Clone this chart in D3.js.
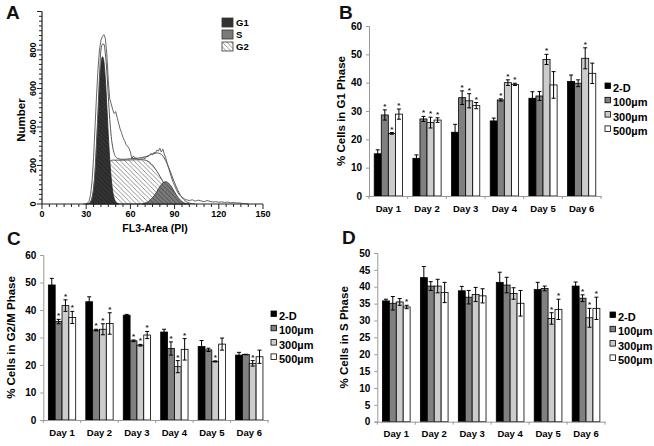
<!DOCTYPE html>
<html><head><meta charset="utf-8">
<script src="https://cdn.jsdelivr.net/npm/d3@7"></script>
<style>body{margin:0;background:#fff} svg{display:block} text{font-family:"Liberation Sans",Arial,sans-serif;}</style>
</head><body><svg id="c" width="654" height="446"></svg>
<script>
// ---------- Data ----------
const days = ["Day 1","Day 2","Day 3","Day 4","Day 5","Day 6"];
const groups = ["2-D","100µm","300µm","500µm"];
const groupFills = ["#000000","#808080","#cccccc","#ffffff"];

// Panel B: % cells in G1 phase
const g1Values = [[14.9,28.6,22.1,28.9],[13.3,27.2,25.9,26.8],[22.5,34.7,33.6,31.9],[26.5,33.9,40.0,39.4],[34.5,35.3,48.2,39.2],[40.4,39.8,48.6,43.3]];
const g1Errors = [[1.4,1.8,0.3,1.8],[1.2,0.9,1.9,0.8],[2.8,2.4,2.5,1.1],[1.0,0.4,1.0,0.4],[2.3,1.6,1.8,4.7],[2.3,1.2,3.7,3.6]];
const g1Stars  = [[0,1,1,1],[0,1,1,1],[0,1,1,1],[0,1,1,1],[0,0,1,0],[0,0,1,0]];

// Panel C: % cells in G2/M phase
const g2mValues = [[49.1,35.8,41.6,37.3],[43.0,32.7,33.0,35.1],[38.1,28.8,27.2,30.9],[32.0,26.0,19.4,25.7],[26.7,25.5,21.3,27.6],[23.6,23.8,20.6,23.0]];
const g2mErrors = [[2.4,0.8,2.1,2.2],[1.8,0.3,2.0,3.9],[0.3,0.3,0.3,1.3],[1.0,2.4,2.2,3.9],[2.2,0.6,0.2,2.2],[1.0,0.1,1.0,2.4]];
const g2mStars  = [[0,1,1,1],[0,1,1,1],[0,1,1,1],[0,1,1,1],[0,0,1,0],[0,0,1,0]];

// Panel D: % cells in S phase
const sValues = [[35.8,35.1,35.5,34.0],[42.7,40.2,40.2,38.3],[38.8,36.9,37.7,37.3],[41.3,40.5,38.0,35.1],[39.2,39.5,30.6,33.3],[40.2,36.6,30.8,33.6]];
const sErrors = [[0.5,2.0,1.0,0.5],[3.3,1.3,2.0,3.0],[1.3,2.0,2.1,2.1],[3.0,2.3,1.7,3.8],[2.1,0.7,1.7,3.0],[1.2,1.0,2.8,3.3]];
const sStars  = [[0,0,0,1],[0,0,0,0],[0,0,0,0],[0,0,0,0],[0,0,1,1],[0,1,1,1]];

const g1Ticks = [0,10,20,30,40,50,60];
const g2mTicks = [0,10,20,30,40,50,60];
const sTicks = [0,5,10,15,20,25,30,35,40,45,50];

// Panel A: DNA histogram (FL3-Area vs Number)
const histXTicks = [0,30,60,90,120,150];
const histYTicks = [0,200,400,600,800];
const histLegend = ["G1","S","G2"];
const g1PeakX = [30,31,32,33,34,35,36,37,38,39,40,41,42,43,44,45,46,47,48,49,50,51,52];
const g1PeakY = [0,0,2,10,30,75,160,290,450,610,720,765,740,650,510,360,230,130,65,28,10,3,0];
const broadX = [34,36,38,40,42,44,46,48,50,55,60,65,68,70,72,74,76,78,80,82,84,86,88,90,92,94,96,98];
const broadY = [0,10,40,90,150,195,220,228,228,228,229,230,230,228,222,210,192,170,145,118,92,68,46,28,15,7,3,0];
const sPeakX = [68,70,72,74,76,78,80,82,84,86,88,90,92,94,96,98,100];
const sPeakY = [0,5,12,25,42,65,90,110,116,108,88,62,38,20,8,2,0];
const fitX = [30,32,34,36,37,38,39,40,41,42,43,44,45,46,47,48,49,50,52,55,60,65,70,72,74,76,78,80,82,84,86,88,90,92,94,96,98,100,104];
const fitY = [0,3,35,170,320,480,660,800,830,830,780,690,560,440,350,295,262,245,235,232,235,238,245,250,258,262,265,262,250,225,190,150,110,75,45,25,12,5,0];
const rawX = [28,30,31,32,33,34,35,36,37,38,39,40,41,42,43,44,45,46,47,48,49,50,51,52,53,54,55,56,57,58,59,60,61,62,63,64,65,66,67,68,69,70,71,72,73,74,75,76,77,78,79,80,81,82,83,84,85,86,87,88,89,90,91,92,93,94,95,96,97,98,99,100,102,104,106,108,110,112,114,116,118,120,122,124,126,128,130,132,134,136,138,140];
const rawY = [0,2,5,15,50,120,240,400,560,700,800,850,870,880,860,780,640,545,520,490,470,480,450,420,390,370,345,330,310,300,290,270,235,250,240,238,235,230,236,232,240,235,248,245,255,262,255,268,265,280,275,290,270,285,260,240,210,185,160,135,112,95,78,62,50,42,35,30,25,22,20,18,22,15,20,16,12,18,14,10,12,9,11,8,10,6,8,5,6,3,2,0];

// ---------- Drawing ----------
const svg = d3.select("#c");
const defs = svg.append("defs");
function hatch(id, bg, fg, w){
  const p = defs.append("pattern").attr("id",id).attr("patternUnits","userSpaceOnUse").attr("width",4.5).attr("height",4.5);
  p.append("rect").attr("width",4.5).attr("height",4.5).attr("fill",bg);
  p.append("path").attr("d","M-1,-1 L5.5,5.5 M-1,3.5 L1,5.5 M3.5,-1 L5.5,1").attr("stroke",fg).attr("stroke-width",w);
}
hatch("hatchW","#ffffff","#777777",0.8);
hatch("hatchS","#7a7a7a","#444444",0.8);
hatch("hatchG1","#333333","#1a1a1a",0.6);

function panelLabel(t,x,y){
  svg.append("text").attr("x",x).attr("y",y).text(t).attr("font-size",19).attr("font-weight","bold").attr("fill","#111");
}

// ----- Panel A -----
(function(){
  const x = d3.scaleLinear().domain([0,150]).range([42,263]);
  const y = d3.scaleLinear().domain([0,1000]).range([204,11.5]);
  const g = svg.append("g");
  const area = (xs,ys)=> d3.area().x((d,i)=>x(xs[i])).y0(y(0)).y1((d,i)=>y(ys[i])).curve(d3.curveMonotoneX)(ys);
  const line = (xs,ys,c)=> d3.line().x((d,i)=>x(xs[i])).y((d,i)=>y(ys[i])).curve(c)(ys);
  g.append("path").attr("d",area(broadX,broadY)).attr("fill","url(#hatchW)").attr("stroke","#444").attr("stroke-width",0.9);
  g.append("path").attr("d",area(g1PeakX,g1PeakY)).attr("fill","url(#hatchG1)").attr("stroke","#222").attr("stroke-width",0.8);
  g.append("path").attr("d",area(sPeakX,sPeakY)).attr("fill","url(#hatchS)").attr("stroke","#333").attr("stroke-width",0.8);
  g.append("path").attr("d",line(fitX,fitY,d3.curveMonotoneX)).attr("fill","none").attr("stroke","#555").attr("stroke-width",1);
  g.append("path").attr("d",line(rawX,rawY,d3.curveLinear)).attr("fill","none").attr("stroke","#555").attr("stroke-width",0.9);
  // axes
  g.append("line").attr("x1",x(0)).attr("x2",x(150)).attr("y1",y(0)).attr("y2",y(0)).attr("stroke","#222").attr("stroke-width",1.2);
  g.append("line").attr("x1",x(0)).attr("x2",x(0)).attr("y1",y(0)).attr("y2",y(1000)).attr("stroke","#222").attr("stroke-width",1.2);
  d3.range(0,151,5).forEach(v=>{
    const major = v%30===0;
    g.append("line").attr("x1",x(v)).attr("x2",x(v)).attr("y1",y(0)).attr("y2",y(0)+(major?5:3)).attr("stroke","#222");
  });
  d3.range(0,1001,25).forEach(v=>{
    const major = v%200===0;
    g.append("line").attr("x1",x(0)).attr("x2",x(0)-(major?5:3)).attr("y1",y(v)).attr("y2",y(v)).attr("stroke","#222");
  });
  histXTicks.forEach(v=> g.append("text").attr("x",x(v)).attr("y",217).attr("text-anchor","middle").attr("font-size",9).attr("font-weight","bold").text(v));
  histYTicks.forEach(v=> g.append("text").attr("transform",`translate(35.5,${y(v)}) rotate(-90)`).attr("text-anchor","middle").attr("font-size",9).attr("font-weight","bold").text(v));
  g.append("text").attr("transform","translate(25,120) rotate(-90)").attr("text-anchor","middle").attr("font-size",11.5).attr("font-weight","bold").text("Number");
  g.append("text").attr("x",155).attr("y",232).attr("text-anchor","middle").attr("font-size",10.5).attr("font-weight","bold").text("FL3-Area (PI)");
  const lf = ["#333333","#7a7a7a","url(#hatchW)"];
  histLegend.forEach((t,i)=>{
    g.append("rect").attr("x",222).attr("y",18+i*12).attr("width",11).attr("height",9).attr("fill",lf[i]).attr("stroke","#333").attr("stroke-width",0.8);
    g.append("text").attr("x",236).attr("y",26+i*12).attr("font-size",9.5).attr("font-weight","bold").text(t);
  });
})();

// ----- Bar panels -----
function barPanel(cfg){
  const g = svg.append("g");
  const x0 = d3.scaleBand().domain(days).range([cfg.left,cfg.right]).paddingInner(0).paddingOuter(0);
  const bw = x0.bandwidth();
  const x1 = d3.scaleBand().domain(groups).range([bw*0.135,bw*0.865]).padding(0);
  const y = d3.scaleLinear().domain([0,cfg.max]).range([cfg.bottom,cfg.top]);
  days.forEach((d,i)=>{
    groups.forEach((s,j)=>{
      const v = cfg.values[i][j], e = cfg.errors[i][j];
      const bx = x0(d)+x1(s);
      g.append("rect").attr("x",bx).attr("y",y(v)).attr("width",x1.bandwidth()).attr("height",y(0)-y(v))
        .attr("fill",groupFills[j]).attr("stroke","#000").attr("stroke-width",0.8);
      const cx = bx + x1.bandwidth()/2;
      g.append("line").attr("x1",cx).attr("x2",cx).attr("y1",y(v+e)).attr("y2",y(v-e)).attr("stroke","#000").attr("stroke-width",1);
      [v+e,v-e].forEach(t=> g.append("line").attr("x1",cx-2).attr("x2",cx+2).attr("y1",y(t)).attr("y2",y(t)).attr("stroke","#000").attr("stroke-width",1));
      if(cfg.stars[i][j]) g.append("text").attr("x",cx).attr("y",y(v+e)-1).attr("text-anchor","middle").attr("font-size",8).attr("font-weight","bold").attr("fill","#222").text("*");
    });
  });
  // y axis
  const ya = g.append("g").attr("transform",`translate(${cfg.left},0)`).call(d3.axisLeft(y).tickValues(cfg.ticks).tickSize(3).tickPadding(4));
  ya.select(".domain").attr("stroke","#999");
  ya.selectAll(".tick line").attr("stroke","#999");
  ya.selectAll("text").attr("font-size",10).attr("font-weight","bold").attr("fill","#000").style("font-family","'Liberation Sans',Arial,sans-serif");
  // x axis
  const xa = g.append("g").attr("transform",`translate(0,${cfg.bottom})`).call(d3.axisBottom(x0).tickSize(0).tickPadding(9));
  xa.select(".domain").attr("stroke","#999");
  xa.selectAll("text").attr("font-size",9.5).attr("font-weight","bold").attr("fill","#000").style("font-family","'Liberation Sans',Arial,sans-serif");
  days.concat(["end"]).forEach((d,i)=>{
    const xx = cfg.left + i*bw;
    g.append("line").attr("x1",xx).attr("x2",xx).attr("y1",cfg.bottom).attr("y2",cfg.bottom+3).attr("stroke","#999");
  });
  g.append("text").attr("transform",`translate(${cfg.ylx},${(cfg.top+cfg.bottom)/2}) rotate(-90)`).attr("text-anchor","middle")
    .attr("font-size",11.5).attr("font-weight","bold").text(cfg.ylabel);
  groups.forEach((s,j)=>{
    const ly = cfg.legY + j*14.3;
    g.append("rect").attr("x",cfg.legX).attr("y",ly-5).attr("width",5.5).attr("height",5.5).attr("fill",groupFills[j]).attr("stroke","#000").attr("stroke-width",0.8);
    g.append("text").attr("x",cfg.legX+8).attr("y",ly+4).attr("font-size",11).attr("font-weight","bold").text(s);
  });
}

barPanel({left:369,right:601,top:26,bottom:196,max:60,ticks:g1Ticks,values:g1Values,errors:g1Errors,stars:g1Stars,ylabel:"% Cells in G1 Phase",ylx:345,legX:605,legY:88});
barPanel({left:43.3,right:268,top:255,bottom:420,max:60,ticks:g2mTicks,values:g2mValues,errors:g2mErrors,stars:g2mStars,ylabel:"% Cells in G2/M Phase",ylx:15,legX:271,legY:316});
barPanel({left:377.3,right:605,top:253,bottom:421.7,max:50,ticks:sTicks,values:sValues,errors:sErrors,stars:sStars,ylabel:"% Cells in S Phase",ylx:348,legX:610,legY:317});

panelLabel("A",6,19);
panelLabel("B",339,19);
panelLabel("C",7,245);
panelLabel("D",342,244);
</script></body></html>
